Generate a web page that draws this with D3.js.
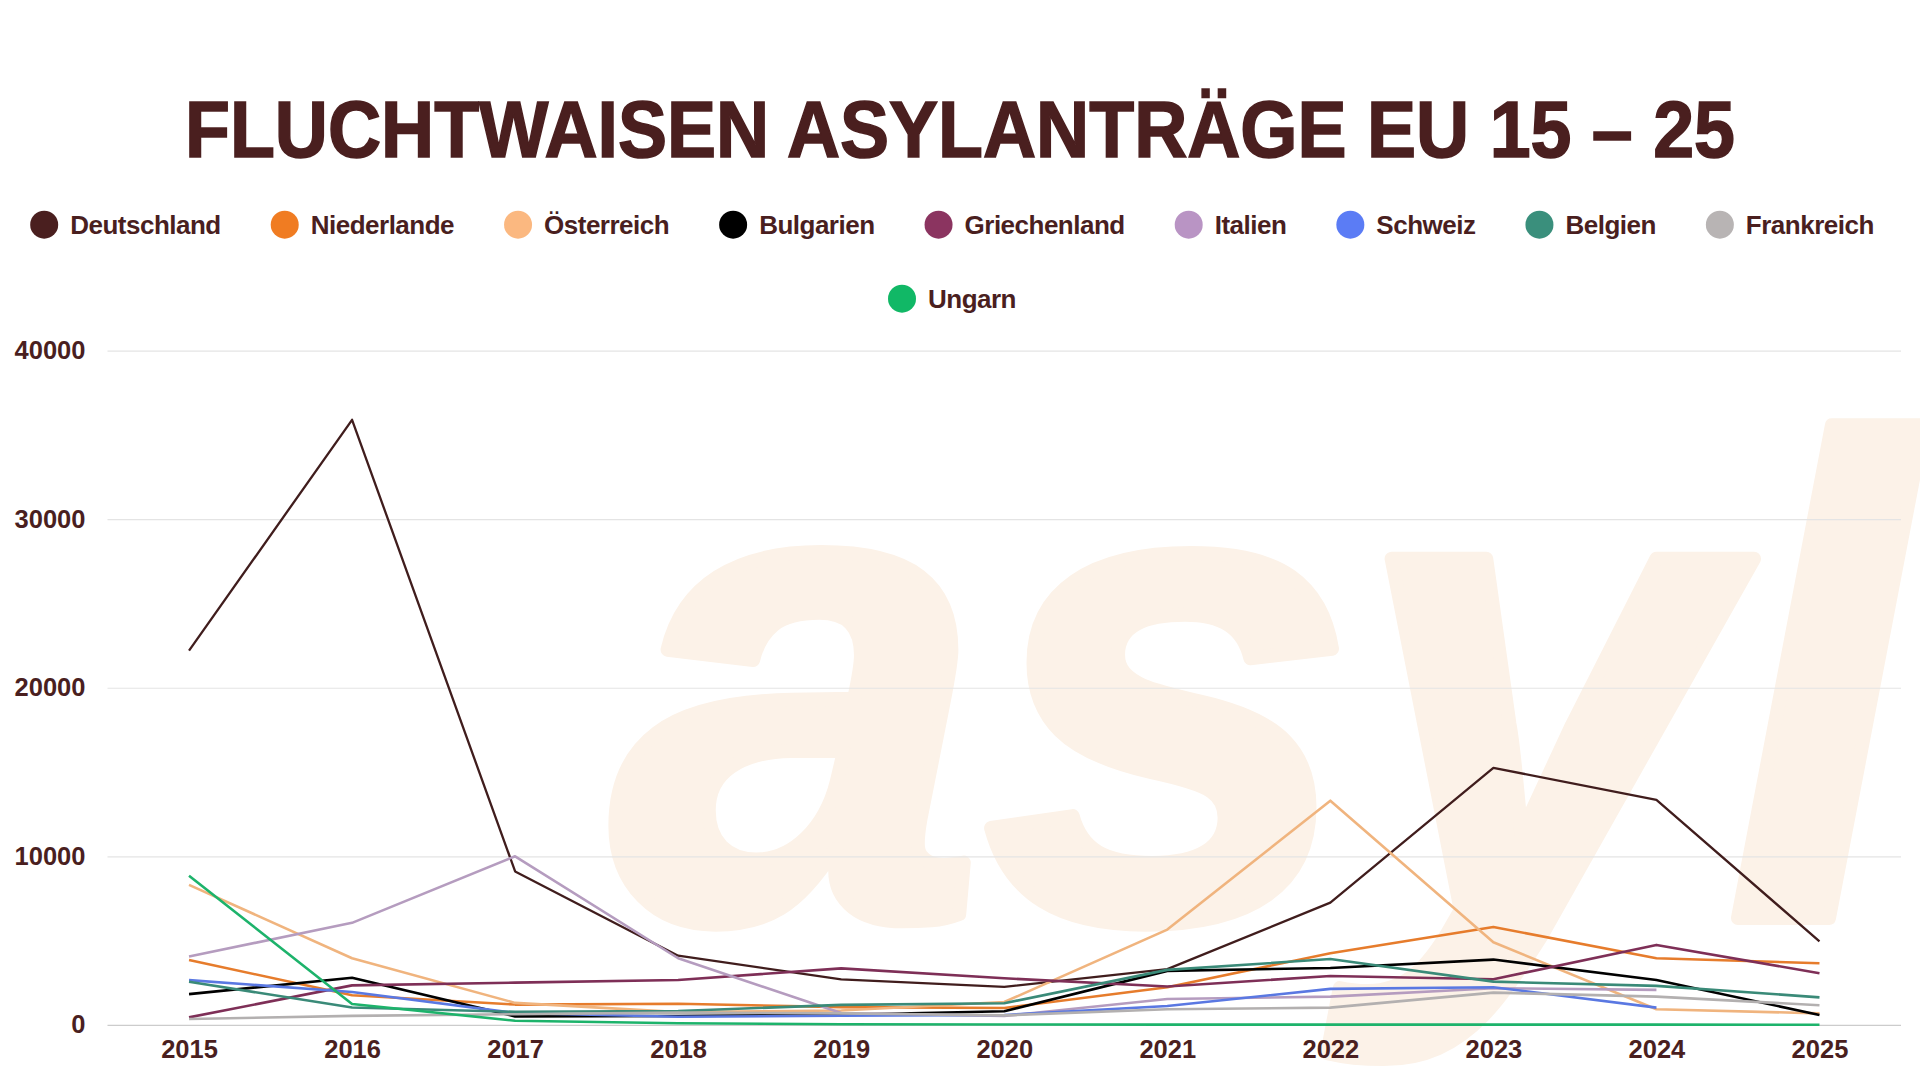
<!DOCTYPE html>
<html>
<head>
<meta charset="utf-8">
<script src="https://cdn.jsdelivr.net/npm/d3@7"></script>
<style>
body{margin:0;background:#fff;}
text{font-family:"Liberation Sans",Arial,sans-serif;font-weight:bold;fill:#4a1f1f;}
</style>
</head>
<body>
<div id="graph"></div>
<script>
var years = [2015,2016,2017,2018,2019,2020,2021,2022,2023,2024,2025];
var countries = ["Deutschland","Niederlande","Österreich","Bulgarien","Griechenland","Italien","Schweiz","Belgien","Frankreich","Ungarn"];
var colors = ["#4a1f1f","#f07c22","#fbb880","#000000","#8b3460","#b994c4","#5b7cf5","#3a8f7c","#b8b4b4","#11b866"];
var lineColors = ["#401d1d","#e67c2c","#f0b47e","#000000","#7e2f57","#b59cbf","#5a78e2","#3a8a78","#b3b0b0","#1db36b"];

var deutschland  = [22200,35900,9100,4100,2700,2250,3300,7250,15250,13350,4950];
var niederlande  = [3850,1750,1200,1250,1050,1000,2230,4250,5800,3950,3650];
var oesterreich  = [8300,3950,1300,750,850,1350,5650,13300,4900,920,680];
var bulgarien    = [1820,2790,500,520,600,800,3200,3370,3870,2660,580];
var griechenland = [440,2340,2500,2660,3350,2760,2270,2900,2700,4740,3060];
var italien      = [4050,6050,10000,3950,700,520,1530,1670,2170,2070,null];
var schweiz      = [2650,1950,700,480,540,580,1120,2130,2230,1020,null];
var belgien      = [2550,1030,770,820,1180,1280,3260,3900,2560,2310,1630];
var frankreich   = [340,530,630,720,680,560,920,1020,1910,1670,1160];
var ungarn       = [8850,1230,240,90,30,20,10,10,10,10,5];

var yTicks = [0,10000,20000,30000,40000];
var titleText = "FLUCHTWAISEN ASYLANTRÄGE EU 15 – 25";

var allValues = [deutschland,niederlande,oesterreich,bulgarien,griechenland,italien,schweiz,belgien,frankreich,ungarn];
var series = countries.map(function(name,i){
	return {name:name, color:colors[i], line:lineColors[i], values:allValues[i]};
});

var width = 1920, height = 1080;
var left = 107.5, right = 1901, top0 = 350.7, bottom = 1024.8;

var canvas = d3.select("#graph").append("svg")
	.attr("width",width)
	.attr("height",height);

// watermark behind everything (heavy, slanted)
canvas.append("text")
	.attr("x",612)
	.attr("y",918)
	.attr("font-size",680)
	.attr("font-style","italic")
	.attr("textLength",1300)
	.attr("lengthAdjust","spacingAndGlyphs")
	.attr("stroke","#fcf2e8")
	.attr("stroke-width",14)
	.attr("stroke-linejoin","round")
	.style("fill","#fcf2e8")
	.text("asyl");

// title
canvas.append("text")
	.attr("x",960)
	.attr("y",156.5)
	.attr("text-anchor","middle")
	.attr("font-size",80)
	.attr("textLength",1550)
	.attr("lengthAdjust","spacingAndGlyphs")
	.attr("stroke","#4a1f1f")
	.attr("stroke-width",1.6)
	.text(titleText);

var x = d3.scalePoint().domain(years).range([left,right]).padding(0.5);
var y = d3.scaleLinear().domain([0,40000]).range([bottom,top0]);

var yAxis = canvas.append("g")
	.attr("transform","translate("+left+",0)")
	.call(d3.axisLeft(y).tickValues(yTicks).tickSize(-(right-left)).tickPadding(22).tickFormat(d3.format("d")));
yAxis.select(".domain").remove();
yAxis.selectAll(".tick line")
	.attr("stroke",function(d){return d===0 ? "#cccccc" : "#e4e4e4";})
	.attr("stroke-width",1.2);
yAxis.selectAll(".tick text")
	.attr("font-size",25.5)
	.style("font-family","'Liberation Sans',Arial,sans-serif");

var xAxis = canvas.append("g")
	.attr("transform","translate(0,"+bottom+")")
	.call(d3.axisBottom(x).tickSize(0).tickPadding(15));
xAxis.select(".domain").remove();
xAxis.selectAll(".tick text")
	.attr("font-size",25.5)
	.style("font-family","'Liberation Sans',Arial,sans-serif");

var line = d3.line()
	.defined(function(d){return d != null;})
	.x(function(d,i){return x(years[i]);})
	.y(function(d){return y(d);});

canvas.selectAll("path.series")
	.data(series)
	.enter()
		.append("path")
		.attr("class","series")
		.attr("fill","none")
		.attr("stroke",function(d){return d.line;})
		.attr("stroke-width",function(d,i){return i===0 ? 2.3 : 2.6;})
		.attr("stroke-linejoin","round")
		.attr("d",function(d){return line(d.values);});

// legend, laid out in centred rows
var legend = canvas.append("g");
var items = legend.selectAll("g")
	.data(series)
	.enter()
		.append("g");
items.append("circle")
	.attr("cx",14)
	.attr("cy",0)
	.attr("r",14)
	.attr("fill",function(d){return d.color;});
items.append("text")
	.attr("x",40)
	.attr("dy","0.35em")
	.attr("font-size",26)
	.style("letter-spacing","-0.5px")
	.text(function(d){return d.name;});

var maxRow = 1880, gap = 50, rows = [[]], rowW = [0];
items.each(function(d){
	var w = 40 + this.querySelector("text").getComputedTextLength();
	var r = rows.length-1;
	var need = rowW[r] === 0 ? w : rowW[r] + gap + w;
	if (need > maxRow) { rows.push([]); rowW.push(0); r++; need = w; }
	rows[r].push({el:this, w:w});
	rowW[r] = need;
});
rows.forEach(function(row,r){
	var cx = 952 - rowW[r]/2;
	row.forEach(function(it){
		d3.select(it.el).attr("transform","translate("+cx+","+(224.7+r*74)+")");
		cx += it.w + gap;
	});
});
</script>
</body>
</html>
